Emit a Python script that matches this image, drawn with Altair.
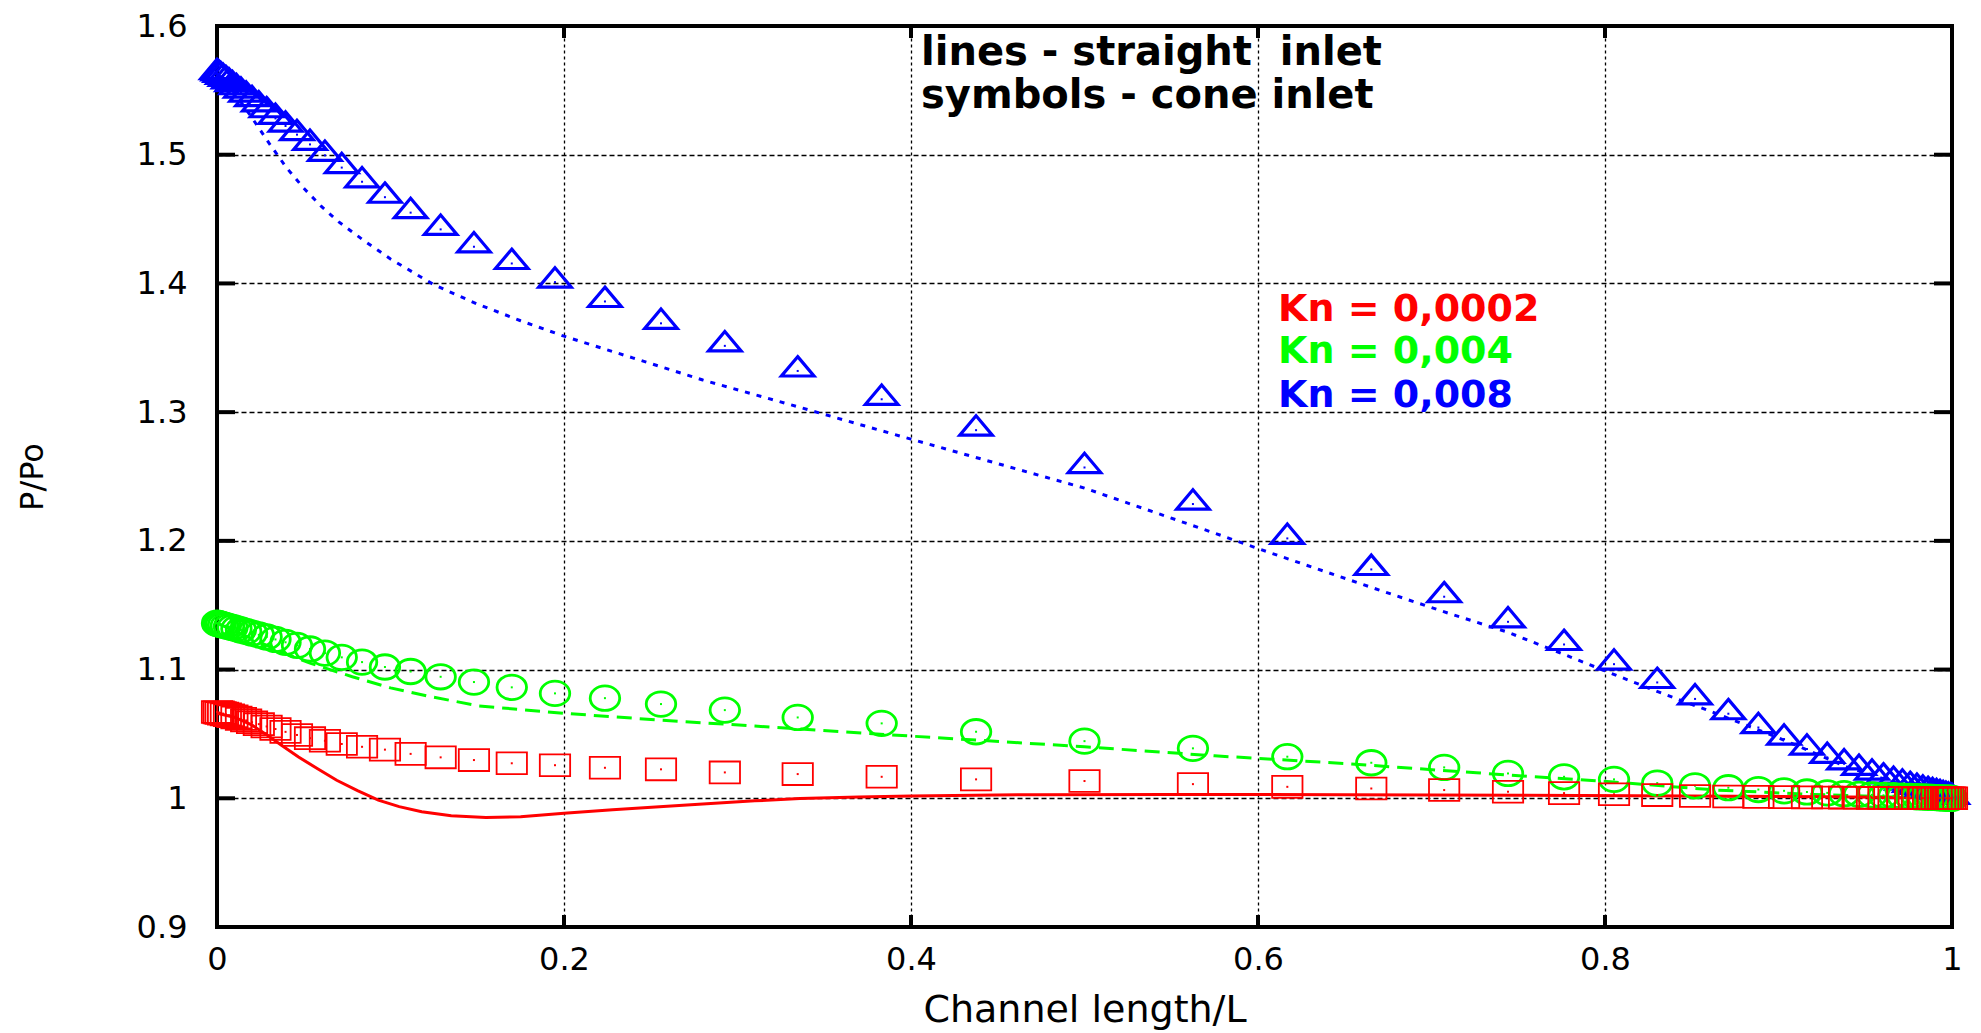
import altair as alt
import pandas as pd

# ---------------- data ----------------
# common abscissa of the symbol series (cone inlet)
X_GRID = [0.0, 0.001, 0.0021, 0.0035, 0.0051, 0.0069, 0.0089, 0.0112, 0.0138, 0.0168,
          0.0202, 0.0241, 0.0286, 0.0337, 0.0395, 0.0461, 0.0536, 0.0622, 0.0719, 0.0836,
          0.0968, 0.1116, 0.1289, 0.1481, 0.1699, 0.1948, 0.2236, 0.2559, 0.2927, 0.3347,
          0.3831, 0.4375, 0.5,
          0.5625, 0.6169, 0.6653, 0.7073, 0.7441, 0.7764, 0.8052, 0.8301, 0.8519, 0.8711,
          0.8884, 0.9032, 0.9164, 0.9281, 0.9378, 0.9464, 0.9539, 0.9605, 0.9663, 0.9714,
          0.9759, 0.9798, 0.9832, 0.9862, 0.9888, 0.9911, 0.9931, 0.9949, 0.9965, 0.9979,
          0.9990, 1.0]

# Kn = 0,008 cone inlet (triangles)
TRI_Y = [1.5630, 1.5620, 1.5608, 1.5594, 1.5577, 1.5558, 1.5537, 1.5513, 1.5486, 1.5455,
         1.5420, 1.5380, 1.5334, 1.5282, 1.5223, 1.5156, 1.5080, 1.4995, 1.4900, 1.4790,
         1.4670, 1.4550, 1.4420, 1.4285, 1.4155, 1.4010, 1.3860, 1.3690, 1.3515, 1.3320,
         1.3100, 1.2860, 1.2570,
         1.2286, 1.2019, 1.1778, 1.1566, 1.1371, 1.1195, 1.1042, 1.0900, 1.0772, 1.0657,
         1.0550, 1.0460, 1.0383, 1.0318, 1.0268, 1.0225, 1.0188, 1.0158, 1.0132, 1.0110,
         1.0092, 1.0077, 1.0064, 1.0053, 1.0044, 1.0036, 1.0028, 1.0021, 1.0015, 1.0009,
         1.0004, 1.0000]

# Kn = 0,004 cone inlet (circles)
CIRC_Y = [1.1360, 1.1356, 1.1352, 1.1347, 1.1341, 1.1334, 1.1327, 1.1318, 1.1308, 1.1297,
          1.1284, 1.1270, 1.1253, 1.1234, 1.1212, 1.1188, 1.1160, 1.1128, 1.1095, 1.1058,
          1.1020, 1.0985, 1.0944, 1.0903, 1.0862, 1.0815, 1.0778, 1.0732, 1.0685, 1.0628,
          1.0582, 1.0517, 1.0444,
          1.0388, 1.0323, 1.0276, 1.0240, 1.0193, 1.0167, 1.0147, 1.0118, 1.0097, 1.0082,
          1.0068, 1.0058, 1.0049, 1.0042, 1.0036, 1.0031, 1.0027, 1.0023, 1.0020, 1.0017,
          1.0014, 1.0012, 1.0010, 1.0008, 1.0007, 1.0005, 1.0004, 1.0003, 1.0002, 1.0001,
          1.0001, 1.0000]

# Kn = 0,0002 cone inlet (squares)
SQ_Y = [1.0670, 1.0667, 1.0663, 1.0658, 1.0652, 1.0645, 1.0637, 1.0628, 1.0617, 1.0605,
        1.0591, 1.0576, 1.0558, 1.0538, 1.0516, 1.0492, 1.0467, 1.0447, 1.0422, 1.0400,
        1.0378, 1.0345, 1.0318, 1.0297, 1.0272, 1.0257, 1.0237, 1.0225, 1.0201, 1.0188,
        1.0167, 1.0147, 1.0134,
        1.0110, 1.0089, 1.0076, 1.0064, 1.0051, 1.0040, 1.0031, 1.0025, 1.0018, 1.0014,
        1.0011, 1.0009, 1.0007, 1.0006, 1.0005, 1.0004, 1.0003, 1.0003, 1.0002, 1.0002,
        1.0001, 1.0001, 1.0001, 1.0001, 1.0000, 1.0000, 1.0000, 1.0000, 1.0000, 1.0000,
        1.0000, 1.0000]

# straight inlet lines
BLUE_LX = [0.0, 0.005, 0.01, 0.02, 0.03, 0.04, 0.05, 0.06, 0.07, 0.085, 0.1, 0.125, 0.15,
           0.175, 0.2, 0.24, 0.28, 0.33, 0.4, 0.45, 0.5, 0.575, 0.6, 0.665, 0.707, 0.744,
           0.776, 0.8, 0.83, 0.86, 0.9, 0.94, 0.97, 0.98, 0.99, 1.0]
BLUE_LY = [1.563, 1.556, 1.548, 1.529, 1.509, 1.490, 1.474, 1.460, 1.448, 1.433, 1.419,
           1.399, 1.384, 1.371, 1.359, 1.342, 1.325, 1.306, 1.279, 1.260, 1.241, 1.206,
           1.194, 1.164, 1.145, 1.129, 1.112, 1.099, 1.083, 1.068, 1.047, 1.024, 1.011,
           1.007, 1.003, 1.000]

GREEN_LX = [0.0, 0.01, 0.02, 0.03, 0.04, 0.054, 0.078, 0.1, 0.123, 0.151, 0.2, 0.255,
            0.31, 0.4, 0.5, 0.575, 0.65, 0.726, 0.803, 0.864, 0.92, 0.96, 1.0]
GREEN_LY = [1.136, 1.130, 1.124, 1.118, 1.112, 1.1048, 1.0944, 1.0858, 1.0790, 1.0718,
            1.0660, 1.0608, 1.0561, 1.0483, 1.0400, 1.0330, 1.0270, 1.0198, 1.0128,
            1.0064, 1.0030, 1.0012, 1.0000]

RED_LX = [0.0, 0.01, 0.02, 0.029, 0.038, 0.047, 0.058, 0.069, 0.081, 0.093, 0.105, 0.118,
          0.135, 0.155, 0.175, 0.2, 0.228, 0.255, 0.28, 0.31, 0.336, 0.37, 0.4, 0.47, 0.55,
          0.65, 0.75, 0.85, 0.93, 1.0]
RED_LY = [1.066, 1.063, 1.057, 1.049, 1.0405, 1.032, 1.023, 1.014, 1.006, 0.9986, 0.9935,
          0.9895, 0.9865, 0.9851, 0.9856, 0.9883, 0.9910, 0.9934, 0.9956, 0.9980, 0.9998,
          1.0010, 1.0017, 1.0028, 1.0030, 1.0028, 1.0024, 1.0018, 1.0012, 1.0000]

X_TICKS = [0, 0.2, 0.4, 0.6, 0.8, 1.0]
Y_TICKS = [0.9, 1.0, 1.1, 1.2, 1.3, 1.4, 1.5, 1.6]

NOTE_LINES = ["lines - straight\u00a0 inlet", "symbols - cone inlet"]
KN_LABELS = ["Kn = 0,0002", "Kn = 0,004", "Kn = 0,008"]

RED, GREEN, BLUE = "#ff0000", "#00ff00", "#0000ff"

# ---------------- chart ----------------
W, H = 1735, 901
FONT = "DejaVu Sans"

x_scale = alt.Scale(domain=[0, 1], nice=False, zero=False)
y_scale = alt.Scale(domain=[0.9, 1.6], nice=False, zero=False)

x_axis = alt.Axis(values=X_TICKS, format="~g", grid=True, gridDash=[3, 3], gridColor="#000",
                  gridWidth=1.3, domain=False, ticks=False, labelFont=FONT, labelFontSize=32,
                  labelColor="black", labelPadding=17, labelFlush=False, labelOverlap=False,
                  title="Channel length/L", titleFont=FONT, titleFontSize=38,
                  titleFontWeight="normal", titleColor="black", titleX=W / 2, titleY=94,
                  titleAlign="center", titleBaseline="alphabetic")
y_axis = alt.Axis(values=Y_TICKS, format="~g", grid=True, gridDash=[5, 3], gridColor="#000",
                  gridWidth=1.3, domain=False, ticks=False, labelFont=FONT, labelFontSize=32,
                  labelColor="black", labelPadding=30, labelFlush=False, labelOverlap=False,
                  title="P/Po", titleFont=FONT, titleFontSize=32, titleFontWeight="normal",
                  titleColor="black", titleAngle=270, titleX=-175, titleY=H / 2,
                  titleAlign="center", titleBaseline="alphabetic")

XE = alt.X("x:Q", scale=x_scale, axis=x_axis)
YE = alt.Y("y:Q", scale=y_scale, axis=y_axis)

blue_sym = pd.DataFrame({"x": X_GRID, "y": TRI_Y})
green_sym = pd.DataFrame({"x": X_GRID, "y": CIRC_Y})
red_sym = pd.DataFrame({"x": X_GRID, "y": SQ_Y})

blue_line = pd.DataFrame({"x": BLUE_LX, "y": BLUE_LY})
green_line = pd.DataFrame({"x": GREEN_LX, "y": GREEN_LY})
red_line = pd.DataFrame({"x": RED_LX, "y": RED_LY})

yt = pd.DataFrame({"y": Y_TICKS})
xt = pd.DataFrame({"x": X_TICKS})

TRI_PATH = "M0,-0.88L1,0.31L-1,0.31Z"
ELL_PATH = "M-1,0A1,0.83,0,1,1,1,0A1,0.83,0,1,1,-1,0Z"
RECT_PATH = "M-1,-0.72L1,-0.72L1,0.72L-1,0.72Z"

layers = []

# inward ticks
layers.append(alt.Chart(yt).mark_rule(color="black", strokeWidth=4).encode(
    y=YE, x=alt.value(0), x2=alt.value(18)))
layers.append(alt.Chart(yt).mark_rule(color="black", strokeWidth=4).encode(
    y=YE, x=alt.value(W - 18), x2=alt.value(W)))
layers.append(alt.Chart(xt).mark_rule(color="black", strokeWidth=4).encode(
    x=XE, y=alt.value(H - 12), y2=alt.value(H)))
layers.append(alt.Chart(xt).mark_rule(color="black", strokeWidth=4).encode(
    x=XE, y=alt.value(0), y2=alt.value(12)))

# lines (straight inlet)
layers.append(alt.Chart(blue_line).mark_line(color=BLUE, strokeWidth=3, strokeDash=[5, 7],
                                             clip=False).encode(x=XE, y=YE))
layers.append(alt.Chart(green_line).mark_line(color=GREEN, strokeWidth=3, strokeDash=[15, 8],
                                              clip=False).encode(x=XE, y=YE))
layers.append(alt.Chart(red_line).mark_line(color=RED, strokeWidth=3,
                                            clip=False).encode(x=XE, y=YE))

# symbols (cone inlet)
for df, path, col, size, sw in [(blue_sym, TRI_PATH, BLUE, 1060, 3.2),
                                (green_sym, ELL_PATH, GREEN, 870, 2.8),
                                (red_sym, RECT_PATH, RED, 920, 1.8)]:
    layers.append(alt.Chart(df).mark_point(shape=path, size=size, filled=False, color=col,
                                           strokeWidth=sw, opacity=1).encode(x=XE, y=YE))
    layers.append(alt.Chart(df).mark_point(shape="square", size=4, filled=True, color=col,
                                           opacity=1).encode(x=XE, y=YE))

# annotations: two-line note as one text block
note_anchor = pd.DataFrame({"x": [0.4058], "y": [1.5697]})
layers.append(alt.Chart(note_anchor).mark_text(
    text=NOTE_LINES, lineHeight=43, align="left", baseline="alphabetic", font=FONT,
    fontWeight="bold", fontSize=40, color="black").encode(x=XE, y=YE))

kn = pd.DataFrame({"x": [0.6115] * 3, "y": [1.3708, 1.3382, 1.3040], "t": KN_LABELS,
                   "c": [RED, GREEN, BLUE]})
layers.append(alt.Chart(kn).mark_text(align="left", baseline="alphabetic", font=FONT,
                                      fontWeight="bold", fontSize=38).encode(
    x=XE, y=YE, text="t:N", color=alt.Color("c:N", scale=None)))

chart = alt.layer(*layers).properties(
    width=W, height=H,
    autosize=alt.AutoSizeParams(type="none"),
    padding={"left": 217, "top": 26, "right": 29, "bottom": 106},
    background="white",
).configure_view(stroke="black", strokeWidth=4)

chart.save("out.html", embed_options={"renderer": "svg", "actions": False})
